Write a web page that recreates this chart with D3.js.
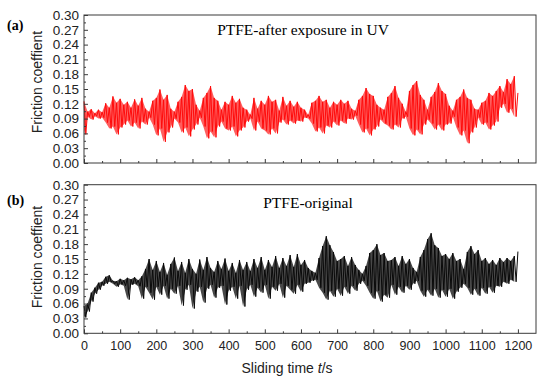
<!DOCTYPE html>
<html>
<head>
<meta charset="utf-8">
<script src="https://cdn.jsdelivr.net/npm/d3@7"></script>
<style>
  body { margin: 0; background: #fff; }
  svg { display: block; }
</style>
</head>
<body>
<svg id="chart" width="550" height="382"></svg>
<script>
// friction coefficient, one value every 5 s (0..1200 s)
// values alternate between the upper and lower swing of the signal
const uvFriction = [
  0.125,0.058, 0.104,0.094, 0.109,0.088, 0.101,0.095, 0.108,0.090, 0.103,0.092,
  0.121,0.082, 0.112,0.070, 0.135,0.074, 0.122,0.058, 0.130,0.072, 0.118,0.078,
  0.124,0.086, 0.112,0.074, 0.129,0.082, 0.116,0.070, 0.132,0.084, 0.110,0.078,
  0.104,0.092, 0.126,0.078, 0.132,0.056, 0.149,0.070, 0.128,0.043, 0.138,0.062,
  0.110,0.072, 0.104,0.090, 0.124,0.082, 0.134,0.062, 0.158,0.072, 0.146,0.054,
  0.150,0.068, 0.118,0.078, 0.106,0.092, 0.132,0.074, 0.142,0.050, 0.156,0.064,
  0.132,0.052, 0.126,0.074, 0.108,0.084, 0.124,0.070, 0.118,0.066, 0.136,0.074,
  0.122,0.054, 0.130,0.066, 0.112,0.072, 0.108,0.084, 0.098,0.090, 0.132,0.066,
  0.110,0.084, 0.126,0.070, 0.118,0.066, 0.136,0.058, 0.124,0.070, 0.128,0.060,
  0.106,0.082, 0.134,0.088, 0.116,0.078, 0.126,0.086, 0.114,0.080, 0.124,0.086,
  0.112,0.084, 0.108,0.092, 0.098,0.090, 0.122,0.080, 0.126,0.064, 0.136,0.072,
  0.124,0.060, 0.128,0.076, 0.112,0.072, 0.124,0.084, 0.118,0.076, 0.128,0.086,
  0.120,0.080, 0.126,0.090, 0.110,0.088, 0.106,0.096, 0.128,0.078, 0.136,0.062,
  0.152,0.070, 0.140,0.056, 0.136,0.068, 0.118,0.074, 0.112,0.088, 0.108,0.080,
  0.134,0.076, 0.142,0.068, 0.156,0.078, 0.132,0.072, 0.120,0.090, 0.104,0.094,
  0.146,0.070, 0.158,0.056, 0.166,0.068, 0.138,0.058, 0.128,0.078, 0.108,0.088,
  0.134,0.080, 0.144,0.068, 0.162,0.078, 0.146,0.066, 0.140,0.078, 0.116,0.080,
  0.106,0.094, 0.128,0.072, 0.134,0.056, 0.149,0.066, 0.132,0.040, 0.128,0.062,
  0.110,0.072, 0.108,0.092, 0.122,0.078, 0.126,0.082, 0.142,0.068, 0.136,0.076,
  0.146,0.084, 0.156,0.112, 0.144,0.120, 0.170,0.102, 0.160,0.110, 0.176,0.094,
  0.142
];

const originalFriction = [
  0.055,0.032, 0.060,0.044, 0.082,0.064, 0.092,0.080, 0.102,0.088, 0.104,0.096,
  0.114,0.100, 0.117,0.104, 0.106,0.100, 0.105,0.094, 0.110,0.099, 0.107,0.096,
  0.112,0.068, 0.109,0.098, 0.113,0.100, 0.107,0.095, 0.115,0.070, 0.130,0.094,
  0.150,0.082, 0.128,0.068, 0.146,0.094, 0.124,0.078, 0.142,0.096, 0.118,0.070,
  0.140,0.090, 0.153,0.080, 0.126,0.096, 0.144,0.056, 0.122,0.088, 0.150,0.098,
  0.130,0.050, 0.120,0.084, 0.149,0.094, 0.128,0.062, 0.154,0.090, 0.132,0.098,
  0.124,0.072, 0.146,0.092, 0.130,0.096, 0.151,0.058, 0.126,0.086, 0.142,0.094,
  0.122,0.070, 0.148,0.096, 0.128,0.054, 0.144,0.088, 0.126,0.098, 0.150,0.074,
  0.132,0.092, 0.154,0.082, 0.128,0.098, 0.148,0.070, 0.134,0.094, 0.156,0.086,
  0.132,0.100, 0.152,0.072, 0.136,0.096, 0.158,0.088, 0.134,0.080, 0.160,0.098,
  0.138,0.084, 0.148,0.100, 0.132,0.102, 0.126,0.106, 0.122,0.108, 0.152,0.092,
  0.176,0.082, 0.196,0.068, 0.178,0.086, 0.164,0.074, 0.146,0.090, 0.150,0.076,
  0.156,0.094, 0.136,0.080, 0.154,0.096, 0.138,0.086, 0.128,0.100, 0.120,0.106,
  0.136,0.096, 0.162,0.082, 0.168,0.070, 0.180,0.086, 0.158,0.064, 0.162,0.078,
  0.146,0.072, 0.148,0.098, 0.154,0.078, 0.136,0.094, 0.156,0.082, 0.140,0.096,
  0.150,0.088, 0.132,0.100, 0.124,0.106, 0.154,0.086, 0.168,0.074, 0.190,0.088,
  0.202,0.076, 0.178,0.090, 0.172,0.072, 0.156,0.088, 0.160,0.074, 0.150,0.090,
  0.162,0.070, 0.146,0.084, 0.150,0.092, 0.130,0.100, 0.164,0.092, 0.176,0.078,
  0.160,0.090, 0.168,0.076, 0.146,0.092, 0.152,0.080, 0.140,0.094, 0.148,0.082,
  0.138,0.096, 0.152,0.094, 0.144,0.104, 0.152,0.100, 0.146,0.108, 0.156,0.104,
  0.165
];

const sampleStep = 5; // seconds between samples
const yMajorTicks = [0, 0.03, 0.06, 0.09, 0.12, 0.15, 0.18, 0.21, 0.24, 0.27, 0.30];
const yMinorTicks = [0.015, 0.045, 0.075, 0.105, 0.135, 0.165, 0.195, 0.225, 0.255, 0.285];
const xMajorTicks = [0, 100, 200, 300, 400, 500, 600, 700, 800, 900, 1000, 1100, 1200];
const xMinorTicks = [50, 150, 250, 350, 450, 550, 650, 750, 850, 950, 1050, 1150];

const panels = [
  { data: uvFriction, color: '#ff0a0a', fill: '#ff2020', fillOpacity: 0.72, top: 15, bottom: 163, tag: '(a)', tagY: 30,
    title: 'PTFE-after exposure in UV', titleX: 303, titleY: 35, labelY: 82, xLabels: false },
  { data: originalFriction, color: '#0a0a0a', fill: '#1a1a1a', fillOpacity: 0.8, top: 184.7, bottom: 333.3, tag: '(b)', tagY: 205,
    title: 'PTFE-original', titleX: 308, titleY: 208, labelY: 257, xLabels: true }
];

const svg = d3.select('#chart');
const left = 84, right = 536;
const x = d3.scaleLinear().domain([0, 1250]).range([left, right]);
const frameColor = '#3a3a3a';
const sans = 'Arial, "Liberation Sans", sans-serif';
const serif = '"Times New Roman", "Liberation Serif", serif';

panels.forEach(p => {
  const y = d3.scaleLinear().domain([0, 0.30]).range([p.bottom, p.top]);

  // band swept by the oscillation: each upper swing paired with the following lower one
  const swings = d3.range(0, p.data.length - 1, 2).map(i => ({ t: i * sampleStep, hi: p.data[i], lo: p.data[i + 1] }));
  const band = d3.area()
    .x(d => x(d.t))
    .y0(d => y(d.lo))
    .y1(d => y(d.hi));
  svg.append('path')
    .datum(swings)
    .attr('fill', p.fill)
    .attr('fill-opacity', p.fillOpacity)
    .attr('d', band);

  // data trace
  const line = d3.line()
    .x((d, i) => x(i * sampleStep))
    .y(d => y(d));
  svg.append('path')
    .datum(p.data)
    .attr('fill', 'none')
    .attr('stroke', p.color)
    .attr('stroke-width', 1)
    .attr('stroke-linejoin', 'round')
    .attr('d', line);

  // left axis, ticks pointing inward
  const gy = svg.append('g').attr('transform', 'translate(' + left + ',0)');
  gy.call(d3.axisLeft(y).tickValues(yMajorTicks).tickSize(-4).tickPadding(5).tickFormat(d3.format('.2f')));
  gy.append('g').call(d3.axisLeft(y).tickValues(yMinorTicks).tickSize(-2).tickFormat(''));
  gy.selectAll('.domain').remove();
  gy.selectAll('line').attr('stroke', frameColor);
  gy.selectAll('text').attr('font-family', sans).attr('font-size', 13.5).attr('fill', '#222');

  // bottom axis
  const gx = svg.append('g').attr('transform', 'translate(0,' + p.bottom + ')');
  gx.call(d3.axisBottom(x).tickValues(xMajorTicks).tickSize(-4).tickPadding(8)
    .tickFormat(p.xLabels ? d3.format('d') : ''));
  gx.append('g').call(d3.axisBottom(x).tickValues(xMinorTicks).tickSize(-2).tickFormat(''));
  gx.selectAll('.domain').remove();
  gx.selectAll('line').attr('stroke', frameColor);
  gx.selectAll('text').attr('font-family', sans).attr('font-size', 12.5).attr('fill', '#222');

  // frame
  svg.append('rect')
    .attr('x', left).attr('y', p.top)
    .attr('width', right - left).attr('height', p.bottom - p.top)
    .attr('fill', 'none').attr('stroke', frameColor).attr('stroke-width', 1);

  svg.append('text')
    .attr('x', 7).attr('y', p.tagY)
    .attr('font-family', serif).attr('font-weight', 'bold').attr('font-size', 14)
    .text(p.tag);

  svg.append('text')
    .attr('x', p.titleX).attr('y', p.titleY)
    .attr('text-anchor', 'middle')
    .attr('font-family', serif).attr('font-size', 15.5)
    .text(p.title);

  svg.append('text')
    .attr('transform', 'translate(42,' + p.labelY + ') rotate(-90)')
    .attr('text-anchor', 'middle')
    .attr('font-family', sans).attr('font-size', 14).attr('fill', '#222')
    .text('Friction coeffient');
});

const xTitle = svg.append('text')
  .attr('x', 287).attr('y', 373)
  .attr('text-anchor', 'middle')
  .attr('font-family', sans).attr('font-size', 14).attr('fill', '#222');
xTitle.append('tspan').text('Sliding time ');
xTitle.append('tspan').attr('font-style', 'italic').text('t');
xTitle.append('tspan').text('/s');
</script>
</body>
</html>
